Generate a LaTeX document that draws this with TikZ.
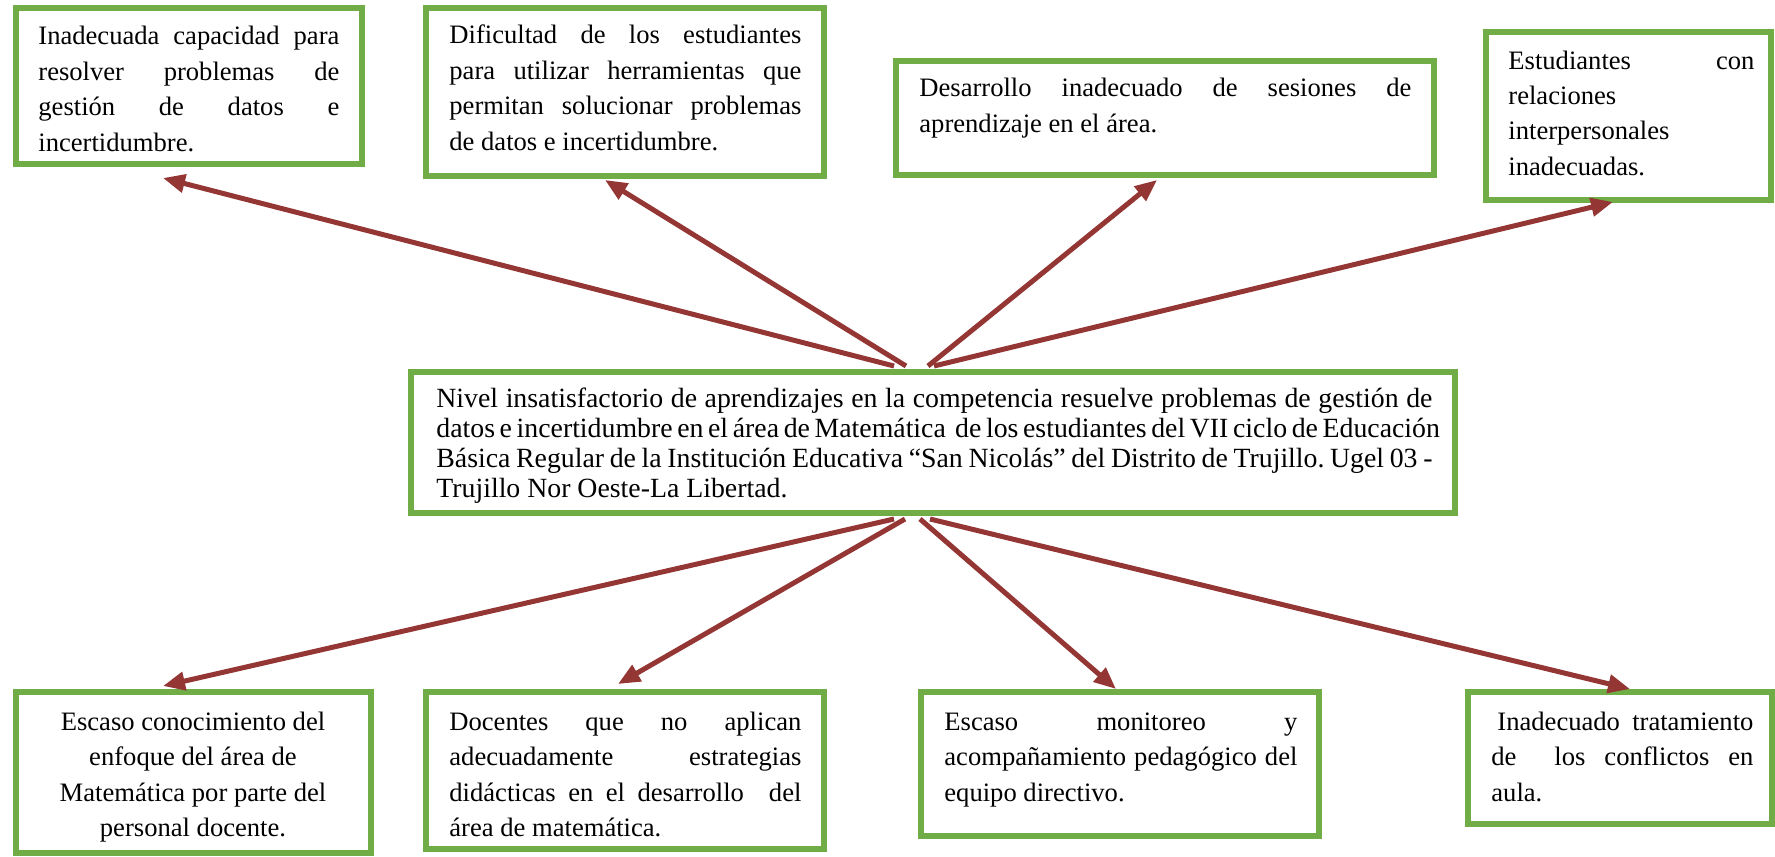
\documentclass[tikz,border=0pt]{standalone}
\usepackage{fontspec}
\setmainfont{Liberation Serif}
\usetikzlibrary{arrows.meta,calc}
\definecolor{boxgreen}{HTML}{70AD47}
\definecolor{arrred}{HTML}{943634}
\newcommand{\jl}[1]{\makebox[\linewidth][s]{#1}}
\newcommand{\txtsize}{\frenchspacing\fontsize{13.3pt}{17.75pt}\selectfont}
\newcommand{\ctrsize}{\frenchspacing\fontsize{13.9pt}{15.1pt}\selectfont}
\begin{document}
\begin{tikzpicture}[x=0.5pt,y=-0.5pt,
  box/.style={draw=boxgreen,line width=3pt,inner sep=0pt,fill=white},
  lbl/.style={anchor=base west,inner sep=0pt,font=\txtsize},
  arr/.style={draw=arrred,line width=2.5pt,-{Triangle[length=11pt,width=9pt]}}]
\useasboundingbox (0,0) rectangle (1775,856);
% boxes
\node[box,minimum width=173pt,minimum height=78pt] (b1) at (189,86) {};
\node[box,minimum width=199pt,minimum height=84pt] (b2) at (625,92) {};
\node[box,minimum width=269pt,minimum height=57pt] (b3) at (1165,118) {};
\node[box,minimum width=142.5pt,minimum height=84pt] (b4) at (1628.5,116) {};
\node[box,minimum width=522pt,minimum height=70.5pt] (c) at (933,442.5) {};
\node[box,minimum width=177.5pt,minimum height=80.5pt] (d1) at (193.5,772.5) {};
\node[box,minimum width=199pt,minimum height=78.5pt] (d2) at (625,770.5) {};
\node[box,minimum width=199pt,minimum height=72pt] (d3) at (1120,764) {};
\node[box,minimum width=152pt,minimum height=66pt] (d4) at (1620,758) {};
% texts
\node[lbl] (t1) at (38,45) {\parbox[t]{150.5pt}{\jl{Inadecuada capacidad para}\\ \jl{resolver problemas de}\\ \jl{gestión de datos e}\\ incertidumbre.}};
\node[lbl] (t2) at (449,44) {\parbox[t]{176pt}{\jl{Dificultad de los estudiantes}\\ \jl{para utilizar herramientas que}\\ \jl{permitan solucionar problemas}\\ de datos e incertidumbre.}};
\node[lbl] (t3) at (919,97) {\parbox[t]{246pt}{\jl{Desarrollo inadecuado de sesiones de}\\ aprendizaje en el área.}};
\node[lbl] (t4) at (1508,69) {\parbox[t]{123pt}{\jl{Estudiantes con}\\ relaciones\\ interpersonales\\ inadecuadas.}};
\node[anchor=base west,inner sep=0pt,font=\ctrsize] (tc) at (436,407) {\parbox[t]{498pt}{\jl{Nivel insatisfactorio de aprendizajes en la competencia resuelve problemas de gestión de}\\ \jl{datos e incertidumbre en el área de Matemática \ de los estudiantes del VII ciclo de Educación}\\ \jl{Básica Regular de la Institución Educativa “San Nicolás” del Distrito de Trujillo. Ugel 03 -}\\ Trujillo Nor Oeste-La Libertad.}};
\node[anchor=base,inner sep=0pt,font=\txtsize] (u1) at (193,730) {\parbox[t]{175pt}{\centering Escaso conocimiento del\\ enfoque del área de\\ Matemática por parte del\\ personal docente.}};
\node[lbl] (u2) at (449,730) {\parbox[t]{176pt}{\jl{Docentes que no aplican}\\ \jl{adecuadamente estrategias}\\ \jl{didácticas en el desarrollo \ del}\\ área de matemática.}};
\node[lbl] (u3) at (944,730) {\parbox[t]{176.5pt}{\jl{Escaso monitoreo y}\\ \jl{acompañamiento pedagógico del}\\ equipo directivo.}};
\node[lbl] (u4) at (1491,730) {\parbox[t]{131pt}{\jl{\hspace{3pt}Inadecuado tratamiento}\\ \jl{de \ los conflictos en}\\ aula.}};
% arrows
\draw[arr] ($(c.north)+(-39,-3)$) -- ($(b1.south)+(-26,11)$);
\draw[arr] ($(c.north)+(-27,-3)$) -- ($(b2.south)+(-20,1)$);
\draw[arr] ($(c.north)+(-5,-3)$) -- ($(b3.south)+(-8,2)$);
\draw[arr] ($(c.north)+(1,-3)$) -- ($(b4.south)+(-15.5,-1)$);
\draw[arr] ($(c.south)+(-39,3)$) -- ($(d1.north)+(-30.5,-3)$);
\draw[arr] ($(c.south)+(-28,3)$) -- ($(d2.north)+(-7,-5)$);
\draw[arr] ($(c.south)+(-13,3)$) -- ($(d3.north)+(-4,0)$);
\draw[arr] ($(c.south)+(-3,3)$) -- ($(d4.north)+(10,0)$);
\end{tikzpicture}
\end{document}
